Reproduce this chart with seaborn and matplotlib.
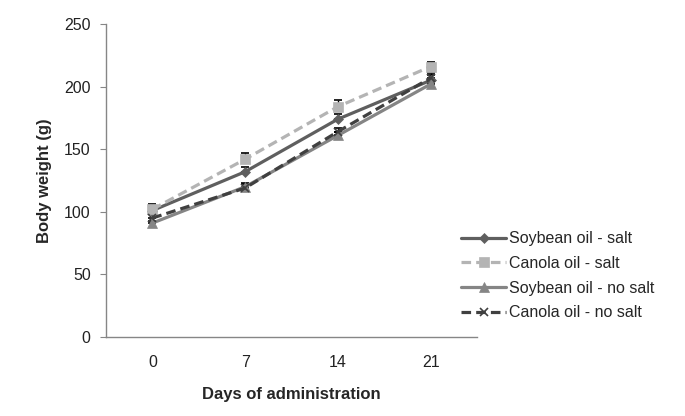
import pandas as pd
import seaborn as sns
import matplotlib.pyplot as plt

sns.set_style("white")
plt.rcParams['font.family'] = ['Liberation Sans', 'DejaVu Sans']

days = ['0', '7', '14', '21']
soy_salt = [101, 132, 174, 205]
canola_salt = [102, 142, 184, 216]
soy_nosalt = [91, 120, 161, 202]
canola_nosalt = [95, 119, 164, 207]

# upper error bars only (as in the original)
soy_salt_err = [3, 4, 4, 4]
canola_salt_err = [4, 5, 5, 4]
soy_nosalt_err = [2, 3, 3, 3]
canola_nosalt_err = [3, 3, 3, 4]

series = [
    ("Soybean oil - salt", soy_salt, soy_salt_err, "#5f5f5f", "-", "D", 5),
    ("Canola oil - salt", canola_salt, canola_salt_err, "#b4b4b4", (0, (3, 1.6)), "s", 7),
    ("Soybean oil - no salt", soy_nosalt, soy_nosalt_err, "#858585", "-", "^", 7),
    ("Canola oil - no salt", canola_nosalt, canola_nosalt_err, "#404040", (0, (3, 1.6)), "x", 6),
]

fig = plt.figure(figsize=(6.85, 4.16), dpi=100)
ax = fig.add_axes([106/685, 1-337/416, (477-106)/685, (337-24)/416])

pos = list(range(len(days)))
for name, vals, err, col, ls, mk, ms in series:
    ax.errorbar(pos, vals, yerr=[[0]*len(err), err], fmt='none',
                ecolor='black', elinewidth=1, capsize=3, capthick=1.2, zorder=1)

for name, vals, err, col, ls, mk, ms in series:
    df = pd.DataFrame({"day": pos, "bw": vals})
    sns.lineplot(data=df, x="day", y="bw", ax=ax, color=col, linestyle=ls,
                 linewidth=2.3, marker=mk, markersize=ms, markeredgecolor=col,
                 markeredgewidth=1.2 if mk == "x" else 0.5, label=name, zorder=2)

ax.set_xlim(-0.5, 3.5)
ax.set_ylim(0, 250)
ax.set_xticks(pos)
ax.set_xticklabels(days)
ax.set_yticks(range(0, 251, 50))
ax.tick_params(axis='x', length=0, pad=13, labelsize=11.5, colors='#222222')
ax.tick_params(axis='y', length=4, width=0.8, color='#868686', direction='out',
               left=True, pad=7, labelsize=11.5, labelcolor='#222222')

for s in ['top', 'right']:
    ax.spines[s].set_visible(False)
for s in ['left', 'bottom']:
    ax.spines[s].set_color('#868686')
    ax.spines[s].set_linewidth(1.0)

ax.set_xlabel("Days of administration", fontsize=12, fontweight='bold', labelpad=12)
ax.set_ylabel("Body weight (g)", fontsize=12, fontweight='bold', labelpad=9)

leg = ax.legend(loc='upper left', bbox_to_anchor=(455/685, 1-225/416),
                bbox_transform=fig.transFigure, frameon=False, fontsize=11.5,
                handlelength=2.8, handletextpad=0.15, labelspacing=0.6,
                borderaxespad=0)

fig.savefig("out.png", dpi=100)
